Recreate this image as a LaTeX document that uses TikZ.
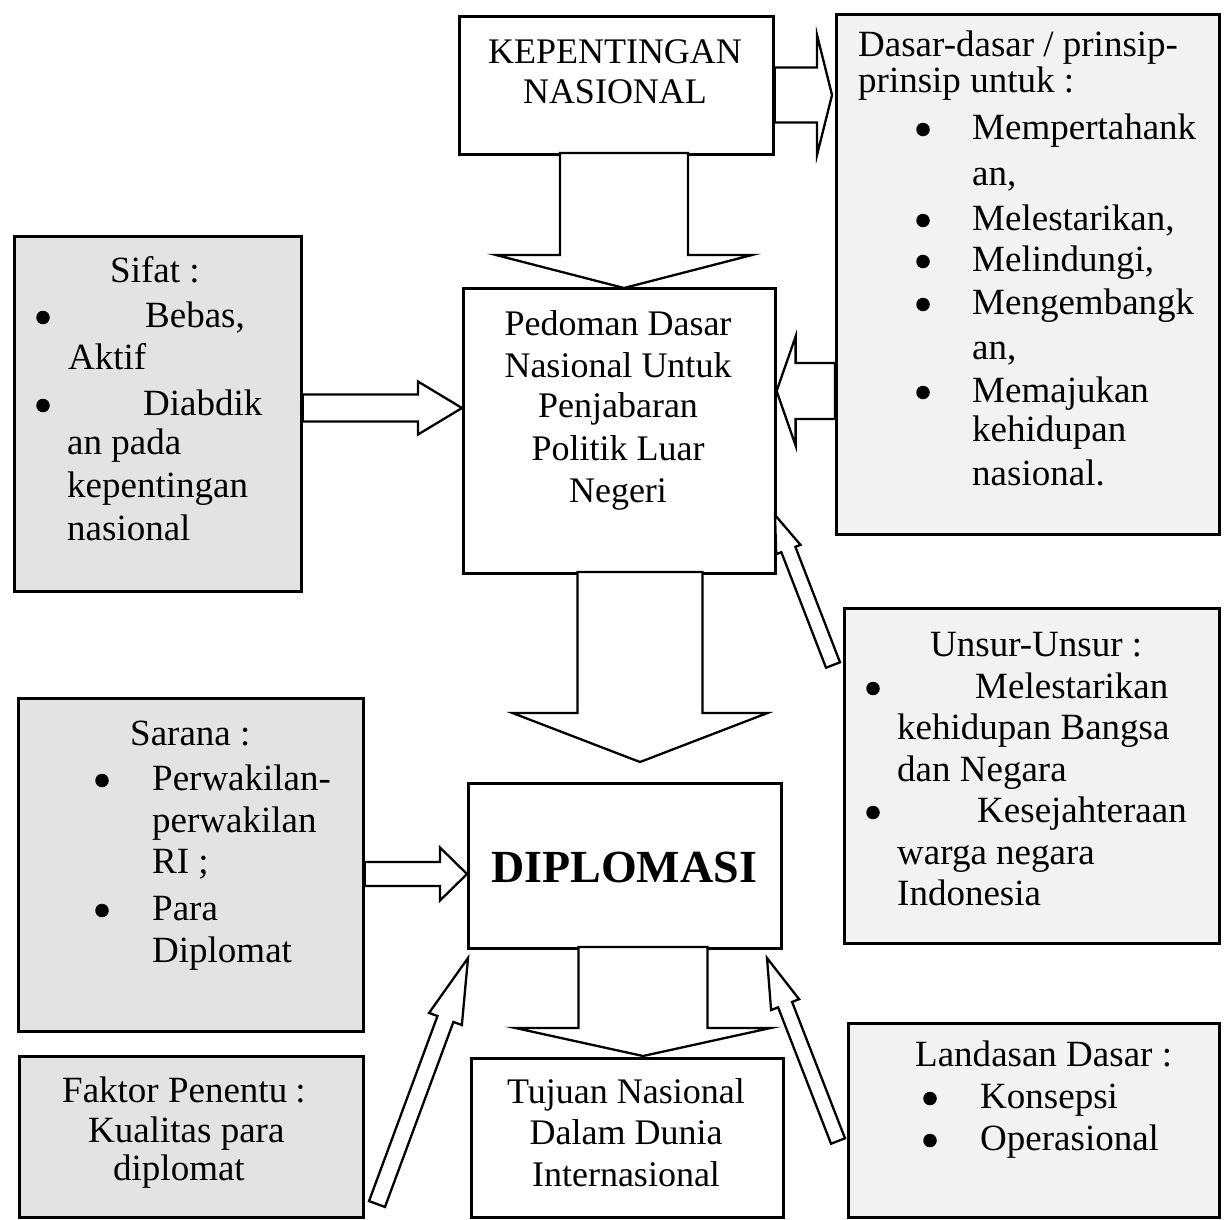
\documentclass[tikz,border=0pt]{standalone}
\usepackage{fontspec}
\setmainfont{Liberation Serif}
\usetikzlibrary{calc}
\newcommand\fsN{\fontsize{37}{42}\selectfont}
\newcommand\fsC{\fontsize{36}{41}\selectfont}
\newcommand\fsB{\fontsize{46}{52}\selectfont\bfseries}
% block arrow: #1 start, #2 tip, #3 half shaft width, #4 half head width, #5 head length
\newcommand\blockarrow[5]{%
  \coordinate (bahead) at ($(#2)!#5!(#1)$);
  \draw[barrow] ($(#1)!#3!90:(#2)$) -- ($(bahead)!#3!90:(#2)$) -- ($(bahead)!#4!90:(#2)$) -- (#2)
     -- ($(bahead)!#4!-90:(#2)$) -- ($(bahead)!#3!-90:(#2)$) -- ($(#1)!#3!-90:(#2)$) -- cycle;
}
\tikzset{
  box/.style={draw, line width=2.6pt, inner sep=0pt, anchor=north west},
  shadeA/.style={fill=gray!22},
  shadeB/.style={fill=gray!10},
  ln/.style={anchor=base west, inner sep=0pt, font=\fsN},
  cl/.style={anchor=base, inner sep=0pt, font=\fsC},
  bul/.style={circle, fill=black, inner sep=0pt, minimum size=13.5pt, yshift=9.5pt},
  barrow/.style={draw, line width=2.3pt, fill=white, line join=miter},
}
\begin{document}
\begin{tikzpicture}[x=1pt,y=-1pt]
\useasboundingbox[fill=white] (0,0) rectangle (1225,1219);

% ---------- boxes ----------
\node[box, minimum width=314pt, minimum height=138pt] (kep) at (458,15) {};
\node[box, shadeB, minimum width=383pt, minimum height=520pt] (dasar) at (835,13) {};
\node[box, shadeA, minimum width=287pt, minimum height=355pt] (sifat) at (13,235) {};
\node[box, minimum width=312pt, minimum height=285pt] (ped) at (462,287) {};
\node[box, shadeB, minimum width=375pt, minimum height=335pt] (unsur) at (843,607) {};
\node[box, shadeA, minimum width=345pt, minimum height=333pt] (sarana) at (17,697) {};
\node[box, minimum width=313pt, minimum height=165pt] (dip) at (467,782) {};
\node[box, minimum width=312pt, minimum height=159pt] (tuj) at (470,1057) {};
\node[box, shadeA, minimum width=344pt, minimum height=161pt] (faktor) at (18,1055) {};
\node[box, shadeB, minimum width=371pt, minimum height=194pt] (landasan) at (847,1022) {};

% ---------- centred texts ----------
\node[cl] (kep1) at (615,63) {KEPENTINGAN};
\node[cl] (kep2) at (615,103) {NASIONAL};
\node[cl] (ped1) at (618,335) {Pedoman Dasar};
\node[cl] (ped2) at (618,377) {Nasional Untuk};
\node[cl] (ped3) at (618,417) {Penjabaran};
\node[cl] (ped4) at (618,460) {Politik Luar};
\node[cl] (ped5) at (618,502) {Negeri};
\node[anchor=base, inner sep=0pt, font=\fsB] (dip1) at (624,882) {DIPLOMASI};
\node[cl] (tuj1) at (626,1103) {Tujuan Nasional};
\node[cl] (tuj2) at (626,1144) {Dalam Dunia};
\node[cl] (tuj3) at (626,1186) {Internasional};

% ---------- Sifat ----------
\node[ln] (sif1) at (110,282) {Sifat :};
\node[bul] (sifb1) at (43,327) {};
\node[ln] (sif2) at (145,327) {Bebas,};
\node[ln] (sif3) at (68,369) {Aktif};
\node[bul] (sifb2) at (43,415) {};
\node[ln] (sif4) at (143,415) {Diabdik};
\node[ln] (sif5) at (67,454) {an pada};
\node[ln] (sif6) at (67,497) {kepentingan};
\node[ln] (sif7) at (67,540) {nasional};

% ---------- Dasar-dasar ----------
\node[ln] (das1) at (858,56) {Dasar-dasar / prinsip-};
\node[ln] (das2) at (858,92) {prinsip untuk :};
\node[bul] (dasb1) at (923,139) {};
\node[ln] (das3) at (972,139) {Mempertahank};
\node[ln] (das4) at (972,185) {an,};
\node[bul] (dasb2) at (923,230) {};
\node[ln] (das5) at (972,230) {Melestarikan,};
\node[bul] (dasb3) at (923,271) {};
\node[ln] (das6) at (972,271) {Melindungi,};
\node[bul] (dasb4) at (923,314) {};
\node[ln] (das7) at (972,314) {Mengembangk};
\node[ln] (das8) at (972,359) {an,};
\node[bul] (dasb5) at (923,402) {};
\node[ln] (das9) at (972,402) {Memajukan};
\node[ln] (das10) at (972,441) {kehidupan};
\node[ln] (das11) at (972,485) {nasional.};

% ---------- Unsur ----------
\node[ln] (uns1) at (930,656) {Unsur-Unsur :};
\node[bul] (unsb1) at (873,698) {};
\node[ln] (uns2) at (975,698) {Melestarikan};
\node[ln] (uns3) at (897,739) {kehidupan Bangsa};
\node[ln] (uns4) at (897,781) {dan Negara};
\node[bul] (unsb2) at (873,822) {};
\node[ln] (uns5) at (977,822) {Kesejahteraan};
\node[ln] (uns6) at (897,864) {warga negara};
\node[ln] (uns7) at (897,905) {Indonesia};

% ---------- Sarana ----------
\node[ln] (sar1) at (130,745) {Sarana :};
\node[bul] (sarb1) at (102,790) {};
\node[ln] (sar2) at (152,790) {Perwakilan-};
\node[ln] (sar3) at (152,832) {perwakilan};
\node[ln] (sar4) at (152,873) {RI ;};
\node[bul] (sarb2) at (102,920) {};
\node[ln] (sar5) at (152,920) {Para};
\node[ln] (sar6) at (152,962) {Diplomat};

% ---------- Faktor ----------
\node[ln] (fak1) at (62,1102) {Faktor Penentu\hspace{8pt}:};
\node[ln] (fak2) at (88,1142) {Kualitas para};
\node[ln] (fak3) at (113,1180) {diplomat};

% ---------- Landasan ----------
\node[ln] (lan1) at (915,1066) {Landasan Dasar :};
\node[bul] (lanb1) at (930,1108) {};
\node[ln] (lan2) at (980,1108) {Konsepsi};
\node[bul] (lanb2) at (930,1150) {};
\node[ln] (lan3) at (980,1150) {Operasional};

% ---------- arrow end points ----------
\coordinate (a1s) at (kep.east |- 0,95);   \coordinate (a1t) at (832,95);
\coordinate (a2s) at (624,153);            \coordinate (a2t) at (624,288);
\coordinate (a3s) at (sifat.east |- 0,408); \coordinate (a3t) at (ped.west |- 0,408);
\coordinate (a4s) at (dasar.west |- 0,391); \coordinate (a4t) at (ped.east |- 0,391);
\coordinate (a5s) at (640,572);            \coordinate (a5t) at (640,762);
\coordinate (a6s) at (643,947);            \coordinate (a6t) at (643,1056);
\coordinate (a7s) at (sarana.east |- 0,874); \coordinate (a7t) at (dip.west |- 0,874);
\coordinate (a8s) at (377,1204);           \coordinate (a8t) at (468,958);
\coordinate (a9s) at (833,665);            \coordinate (a9t) at (775,515);
\coordinate (a10s) at (838,1141);          \coordinate (a10t) at (767,958);

% ---------- block arrows ----------
\blockarrow{a1s}{a1t}{27.5pt}{60pt}{15pt}
\blockarrow{a2s}{a2t}{64pt}{128pt}{33pt}
\blockarrow{a3s}{a3t}{13.5pt}{26.5pt}{44pt}
\blockarrow{a4s}{a4t}{28pt}{54.5pt}{19pt}
\blockarrow{a5s}{a5t}{62.5pt}{127.5pt}{49pt}
\blockarrow{a6s}{a6t}{64.5pt}{127.5pt}{28pt}
\blockarrow{a7s}{a7t}{12pt}{26.5pt}{27pt}
\blockarrow{a8s}{a8t}{8.5pt}{17.5pt}{65pt}
\blockarrow{a9s}{a9t}{7.5pt}{13pt}{37pt}
\blockarrow{a10s}{a10t}{7.5pt}{15pt}{50pt}
\end{tikzpicture}
\end{document}
